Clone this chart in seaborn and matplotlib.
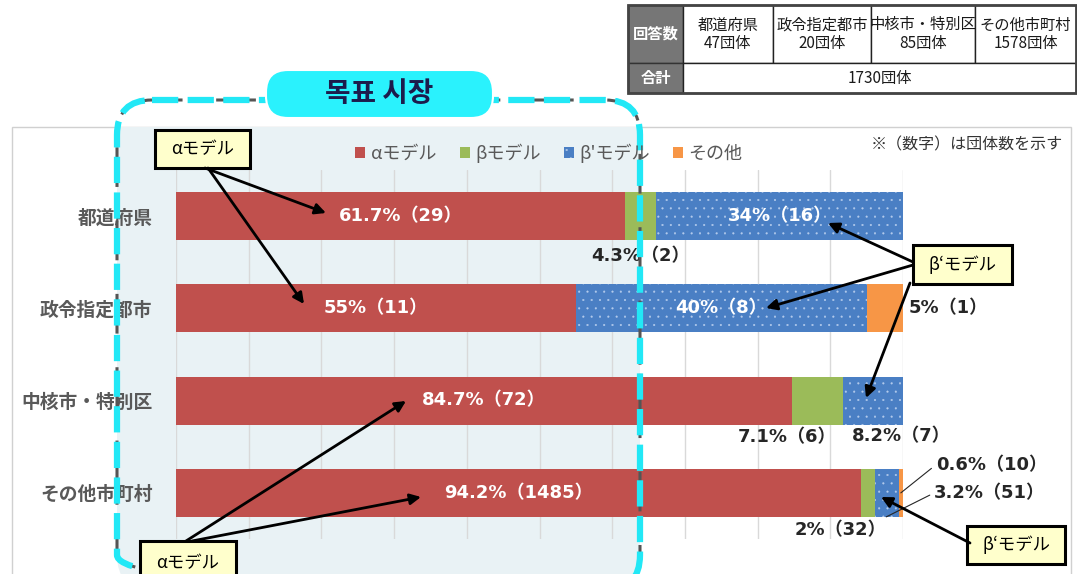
import matplotlib
matplotlib.use('Agg')
import matplotlib.pyplot as plt
import pandas as pd
import seaborn as sns
from matplotlib.patches import Rectangle, FancyBboxPatch, Patch

# Survey results (share %, number of bodies)
categories = ['都道府県', '政令指定都市', '中核市・特別区', 'その他市町村']
alpha_pct = [61.7, 55.0, 84.7, 94.2]
beta_pct = [4.3, 0.0, 7.1, 2.0]
beta2_pct = [34.0, 40.0, 8.2, 3.2]
other_pct = [0.0, 5.0, 0.0, 0.6]
alpha_n = [29, 11, 72, 1485]
beta_n = [2, 0, 6, 32]
beta2_n = [16, 8, 7, 51]
other_n = [0, 1, 0, 10]
series_names = ['αモデル', 'βモデル', "β'モデル", 'その他']
series_colors = ['#c0504d', '#9bbb59', '#4a7fc4', '#f79646']

# Response count table
table_row_heads = ['回答数', '合計']
table_groups = ['都道府県', '政令指定都市', '中核市・特別区', 'その他市町村']
table_counts = [47, 20, 85, 1578]
table_total = 1730

sns.set_style('white')
plt.rcParams['font.family'] = ['Noto Sans CJK JP', 'DejaVu Sans']
plt.rcParams['hatch.linewidth'] = 0.3

df = pd.DataFrame({'cat': categories, 'a': alpha_pct, 'b': beta_pct,
                   'b2': beta2_pct, 'o': other_pct})
df['cum_b'] = df['a'] + df['b']
df['cum_b2'] = df['cum_b'] + df['b2']
df['cum_o'] = df['cum_b2'] + df['o']

W, H = 1077, 574
fig = plt.figure(figsize=(W / 100, H / 100), dpi=100)

# background layer: chart panel + tinted target region
back = fig.add_axes([0, 0, 1, 1], zorder=-1)
back.set_xlim(0, W)
back.set_ylim(H, 0)
back.axis('off')
panel = Rectangle((12, 127), 1059, 470, fc='white', ec='#d0d0d0', lw=1)
back.add_patch(panel)
tint = FancyBboxPatch((117, 100), 523, 490, boxstyle='round,pad=0,rounding_size=35',
                      fc='#e9f2f5', ec='none')
back.add_patch(tint)
tint.set_clip_path(panel)

# main bar chart
ax = fig.add_axes([176 / W, 1 - 539 / H, 727 / W, 369 / H], zorder=1)
ax.set_facecolor('none')
bw = 0.52
dot_col = '#b4cbec'
sns.barplot(data=df, x='cum_o', y='cat', orient='h', color=series_colors[3],
            saturation=1, width=bw, linewidth=0, ax=ax)
sns.barplot(data=df, x='cum_b2', y='cat', orient='h', color=series_colors[2],
            saturation=1, width=bw, linewidth=0, hatch='..', edgecolor=dot_col, ax=ax)
sns.barplot(data=df, x='cum_b', y='cat', orient='h', color=series_colors[1],
            saturation=1, width=bw, linewidth=0, ax=ax)
sns.barplot(data=df, x='a', y='cat', orient='h', color=series_colors[0],
            saturation=1, width=bw, linewidth=0, ax=ax)

ax.set_xlim(0, 100)
ax.set_ylim(3.5, -0.5)
ax.set_xticks(range(0, 101, 10))
ax.set_xticklabels([])
ax.xaxis.grid(True, color='#d9d9d9', lw=1)
ax.set_axisbelow(True)
ax.set_xlabel('')
ax.set_ylabel('')
ax.tick_params(length=0)
ax.tick_params(axis='y', pad=17, labelsize=13.5, labelcolor='#595959')
for t in ax.get_yticklabels():
    t.set_fontweight('bold')
for s in ax.spines.values():
    s.set_visible(False)

lab_font = dict(family=['DejaVu Sans', 'Noto Sans CJK JP'], fontweight='bold', fontsize=13)
px = 0.72  # pixels -> points


def label(text, x, row, dx=0, dy=0, ha='center', color='white', leader=None):
    kw = {}
    if leader is not None:
        kw['arrowprops'] = dict(arrowstyle='-', color='#262626', lw=0.8,
                                shrinkA=1, shrinkB=0, relpos=(0, 0.5))
        x, row = leader
    ax.annotate(text, xy=(x, row), xytext=(dx * px, -dy * px), textcoords='offset points',
                ha=ha, va='center', color=color, zorder=5, **kw, **lab_font)


dark = '#262626'
for i in range(4):
    label(f'{alpha_pct[i]:g}%（{alpha_n[i]}）', alpha_pct[i] / 2, i)
# 都道府県
label(f'{beta_pct[0]:g}%（{beta_n[0]}）', df['a'][0] + beta_pct[0] / 2, 0, dy=40, color=dark)
label(f'{beta2_pct[0]:g}%（{beta2_n[0]}）', df['cum_b'][0] + beta2_pct[0] / 2, 0)
# 政令指定都市
label(f'{beta2_pct[1]:g}%（{beta2_n[1]}）', df['cum_b'][1] + beta2_pct[1] / 2, 1)
label(f'{other_pct[1]:g}%（{other_n[1]}）', df['cum_o'][1], 1, dx=6, ha='left', color=dark)
# 中核市・特別区
label(f'{beta_pct[2]:g}%（{beta_n[2]}）', df['cum_b'][2], 2, dx=-7, dy=37, ha='right', color=dark)
label(f'{beta2_pct[2]:g}%（{beta2_n[2]}）', df['cum_b'][2], 2, dx=8, dy=36, ha='left', color=dark)
# その他市町村
label(f'{beta_pct[3]:g}%（{beta_n[3]}）', df['a'][3] + beta_pct[3] / 2, 3, dx=-28, dy=37, color=dark)
label(f'{other_pct[3]:g}%（{other_n[3]}）', 0, 0, dx=35, dy=-28, ha='left', color=dark,
      leader=(df['cum_o'][3] - 0.3, 3))
label(f'{beta2_pct[3]:g}%（{beta2_n[3]}）', 0, 0, dx=48, dy=-24, ha='left', color=dark,
      leader=(df['cum_b2'][3] - 1.7, 3 + bw / 2))

# legend
handles = [Patch(fc=c, ec=dot_col if n == "β'モデル" else c, lw=0,
                 hatch='..' if n == "β'モデル" else None)
           for n, c in zip(series_names, series_colors)]
fig.legend(handles=handles, labels=series_names, loc='center',
           bbox_to_anchor=(549 / W, 1 - 153 / H), ncol=4, frameon=False, fontsize=13,
           handlelength=0.55, handleheight=0.55, handletextpad=0.3, columnspacing=1.3,
           labelcolor='#595959')

# decoration layer
deco = fig.add_axes([0, 0, 1, 1], zorder=5)
deco.set_xlim(0, W)
deco.set_ylim(H, 0)
deco.axis('off')
deco.patch.set_alpha(0)

deco.text(1063, 145, '※（数字）は団体数を示す', ha='right', va='center',
          fontsize=11.5, color='#333333')

# target market dashed region
region_kw = dict(boxstyle='round,pad=0,rounding_size=35', fc='none')
deco.add_patch(FancyBboxPatch((117, 100), 523, 490, ec='#555555', lw=2.2,
                              ls=(3, (5, 3)), **region_kw))
deco.add_patch(FancyBboxPatch((117, 100), 523, 490, ec='#22e8f6', lw=4.5,
                              ls=(0, (4.2, 1.5)), **region_kw))
deco.add_patch(FancyBboxPatch((266, 70), 227, 48, boxstyle='round,pad=0,rounding_size=22',
                              fc='#2af2fd', ec='white', lw=1.5))
deco.text(379.5, 94, '목표 시장', ha='center', va='center', fontsize=20, fontweight='bold',
          color='#1c1c4c', family=['Noto Sans CJK KR'])


def callout(x, y, w, h, text, arrows):
    for start, tip in arrows:
        deco.annotate('', xy=tip, xytext=start,
                      arrowprops=dict(arrowstyle='-|>', color='black', lw=2,
                                      mutation_scale=16, shrinkA=0, shrinkB=0))
    deco.add_patch(Rectangle((x, y), w, h, fc='#ffffcc', ec='black', lw=2.2))
    deco.text(x + w / 2, y + h / 2, text, ha='center', va='center', fontsize=12.5, color='black')


callout(155, 130, 95, 38, 'αモデル', [((205, 168), (326, 213)), ((208, 168), (304, 304))])
callout(140, 541, 96, 45, 'αモデル', [((186, 541), (406, 401)), ((192, 541), (421, 497))])
callout(913, 245, 99, 39, 'β‘モデル', [((913, 262), (828, 223)), ((913, 265), (766, 308)),
                                     ((910, 283), (866, 398))])
callout(967, 526, 98, 38, 'β‘モデル', [((970, 543), (881, 497))])

# response count table
cols = [628, 683, 773, 871, 975, 1076]
rows = [5, 63, 93]
for r, head in enumerate(table_row_heads):
    deco.add_patch(Rectangle((cols[0], rows[r]), cols[1] - cols[0], rows[r + 1] - rows[r],
                             fc='#767676', ec='#333333', lw=1))
    deco.text((cols[0] + cols[1]) / 2, (rows[r] + rows[r + 1]) / 2, head, ha='center',
              va='center', fontsize=11, fontweight='bold', color='white')
for j, (g, n) in enumerate(zip(table_groups, table_counts)):
    deco.add_patch(Rectangle((cols[j + 1], rows[0]), cols[j + 2] - cols[j + 1], rows[1] - rows[0],
                             fc='white', ec='#222222', lw=1))
    deco.text((cols[j + 1] + cols[j + 2]) / 2, (rows[0] + rows[1]) / 2, f'{g}\n{n}団体',
              ha='center', va='center', fontsize=11, color='#1a1a1a', linespacing=1.1)
deco.add_patch(Rectangle((cols[1], rows[1]), cols[-1] - cols[1], rows[2] - rows[1],
                         fc='white', ec='#222222', lw=1))
deco.text((cols[1] + cols[-1]) / 2, (rows[1] + rows[2]) / 2, f'{table_total}団体',
          ha='center', va='center', fontsize=11, color='#1a1a1a')
deco.add_patch(Rectangle((cols[0], rows[0]), cols[-1] - cols[0], rows[-1] - rows[0],
                         fc='none', ec='#444444', lw=2))

fig.savefig('out.png', dpi=100)
